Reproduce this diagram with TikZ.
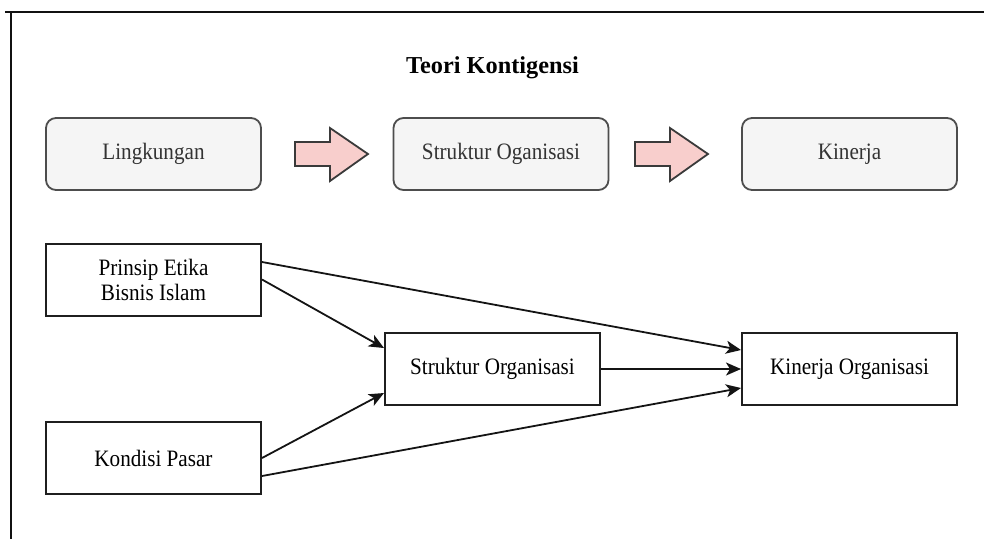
\documentclass[tikz,border=0pt]{standalone}
\usepackage{fontspec}
\setmainfont{Liberation Serif}
\newfontfamily\boxfont{Liberation Serif}[FakeStretch=0.9]
\usetikzlibrary{arrows.meta}

\definecolor{panelfill}{HTML}{F5F5F5}
\definecolor{panelline}{HTML}{4D4D4D}
\definecolor{paneltext}{HTML}{333333}
\definecolor{flowfill}{HTML}{F8CECC}
\definecolor{flowline}{HTML}{3A3A3A}
\definecolor{frameline}{HTML}{111111}

\tikzset{
  panel/.style={draw=panelline, fill=panelfill, line width=1.8pt,
    rounded corners=10pt, minimum width=215pt, minimum height=72pt,
    inner sep=0pt, text=paneltext, font=\boxfont\fontsize{23.5}{25}\selectfont},
  factor/.style={draw=black!88, fill=white, line width=2pt,
    minimum width=215pt, minimum height=72pt, inner sep=0pt,
    align=center, text=black, font=\boxfont\fontsize{23.5}{25}\selectfont},
  link/.style={draw=black!92, line width=1.8pt,
    -{Stealth[length=15pt,width=13pt,inset=4pt]}},
  flow/.style={draw=flowline, fill=flowfill, line width=1.8pt, line join=miter},
  frame/.style={draw=frameline, line width=2.2pt}
}

\begin{document}
\begin{tikzpicture}[x=1pt, y=-1pt]
  \useasboundingbox (0,0) rectangle (984,539);

  % outer frame (top and left edges)
  \draw[frame] (5,12) -- (984,12);
  \draw[frame] (11,12) -- (11,539);

  % title
  \node[anchor=base, font=\bfseries\fontsize{24.3}{28}\selectfont] (title) at (492.5,73) {Teori Kontigensi};

  % contingency chain
  \node[panel] (env)  at (153.5,154) {Lingkungan};
  \node[panel] (org)  at (501,154)   {Struktur Oganisasi};
  \node[panel] (perf) at (849.5,154) {Kinerja};

  \coordinate (f1) at (295,154);
  \coordinate (f2) at (635,154);
  \foreach \c in {f1,f2}{
    \draw[flow] (\c) ++(0,-12) -- ++(35,0) -- ++(0,-14) -- ++(38,26)
      -- ++(-38,27) -- ++(0,-15) -- ++(-35,0) -- cycle;
  }

  % research model
  \node[factor] (ethic)  at (153.5,279.5) {Prinsip Etika\\Bisnis Islam};
  \node[factor] (market) at (153.5,458)   {Kondisi Pasar};
  \node[factor] (struct) at (492.5,369) {Struktur Organisasi};
  \node[factor] (result) at (849.5,369) {Kinerja Organisasi};

  \draw[link] ([yshift=17.5pt]ethic.east) -- ([yshift=19pt]result.west);
  \draw[link] (ethic.east) -- ([yshift=21pt]struct.west);
  \draw[link] (market.east) -- ([yshift=-24pt]struct.west);
  \draw[link] ([yshift=-18pt]market.east) -- ([yshift=-19pt]result.west);
  \draw[link] (struct.east) -- (result.west);
\end{tikzpicture}
\end{document}
